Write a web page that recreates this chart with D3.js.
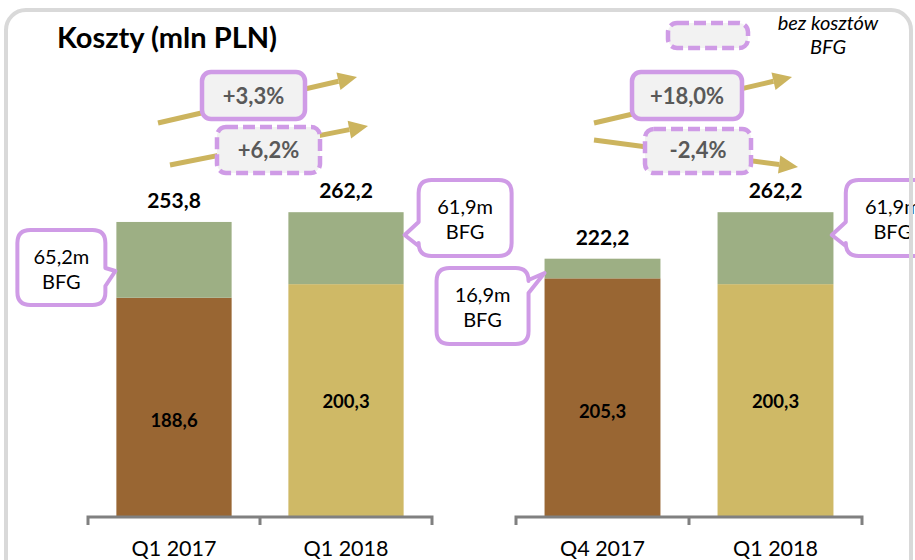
<!DOCTYPE html>
<html>
<head>
<meta charset="utf-8">
<script src="https://cdn.jsdelivr.net/npm/d3@7"></script>
<style>
  html, body { margin: 0; padding: 0; background: #fff; }
  svg { display: block; font-family: Lato, "Open Sans", sans-serif; }
</style>
</head>
<body>
<div id="svg-container"></div>
<script>
// dane (mln PLN)
const categoriesYoY = ['Q1 2017', 'Q1 2018'];
const baseYoY = [188.6, 200.3];
const bfgYoY = [65.2, 61.9];
const totalYoY = [253.8, 262.2];

const categoriesQoQ = ['Q4 2017', 'Q1 2018'];
const baseQoQ = [205.3, 200.3];
const bfgQoQ = [16.9, 61.9];
const totalQoQ = [222.2, 262.2];

const changeTotal = ['+3,3%', '+18,0%'];
const changeNoBfg = ['+6,2%', '-2,4%'];

const brown = '#996633', gold = '#cfb966', green = '#9daf84';
const purple = '#cf9be6', arrowCol = '#ccb45e';

const width = 915, height = 560;
const svg = d3.select('#svg-container').append('svg')
  .attr('width', width).attr('height', height);

const fmt = v => v.toFixed(1).replace('.', ',');

// wspolna skala y
const y = d3.scaleLinear().domain([0, 300]).range([517, 168.25]);

// dwie grupy slupkow
const groups = [
  { cats: categoriesYoY, base: baseYoY, bfg: bfgYoY, total: totalYoY, range: [88, 432] },
  { cats: categoriesQoQ, base: baseQoQ, bfg: bfgQoQ, total: totalQoQ, range: [516, 862] }
];

groups.forEach(grp => {
  const x = d3.scaleBand().domain(grp.cats).range(grp.range)
    .paddingInner(0.33).paddingOuter(0.165);
  grp.x = x;
  const data = grp.cats.map((c, i) => ({
    cat: c, base: grp.base[i], bfg: grp.bfg[i], total: grp.total[i],
    color: i === 0 ? brown : gold, first: i === 0
  }));
  const g = svg.append('g');

  // dolny segment
  g.selectAll('rect.base').data(data).enter().append('rect')
    .attr('x', d => x(d.cat)).attr('width', x.bandwidth())
    .attr('y', d => y(d.base)).attr('height', d => y(0) - y(d.base))
    .attr('fill', d => d.color);
  // segment BFG
  g.selectAll('rect.bfg').data(data).enter().append('rect')
    .attr('x', d => x(d.cat)).attr('width', x.bandwidth())
    .attr('y', d => y(d.base + d.bfg)).attr('height', d => y(d.base) - y(d.base + d.bfg))
    .attr('fill', green);

  // wartosci w srodku
  g.selectAll('text.in').data(data).enter().append('text')
    .attr('x', d => x(d.cat) + x.bandwidth() / 2)
    .attr('y', d => y(d.base / 2) + (d.first ? 20 : 7))
    .attr('text-anchor', 'middle').attr('font-weight', 'bold').attr('font-size', 18.5)
    .attr('fill', '#000').text(d => fmt(d.base));
  // sumy
  g.selectAll('text.tot').data(data).enter().append('text')
    .attr('x', d => x(d.cat) + x.bandwidth() / 2)
    .attr('y', d => y(d.total) - 14)
    .attr('text-anchor', 'middle').attr('font-weight', 'bold').attr('font-size', 21)
    .attr('fill', '#000').text(d => fmt(d.total));

  // os x
  const axis = g.append('g').attr('transform', `translate(0, ${y(0)})`)
    .call(d3.axisBottom(x).tickSize(0).tickPadding(23.5));
  axis.select('.domain').remove();
  axis.selectAll('text').attr('font-size', 21.5).attr('fill', '#000')
    .attr('font-family', 'Lato, sans-serif');
  const r = grp.range, st = x.step();
  let p = `M${r[0]},8V0H${r[1]}V8`;
  for (let i = 1; i < grp.cats.length; i++) p += `M${r[0] + i * st},0V8`;
  axis.append('path').attr('d', p).attr('fill', 'none')
    .attr('stroke', '#808080').attr('stroke-width', 3);
});

// strzalki
function arrow(x1, y1, x2, y2) {
  const dx = x2 - x1, dy = y2 - y1, len = Math.hypot(dx, dy);
  const ux = dx / len, uy = dy / len, hl = 19, hw = 9;
  const bx = x2 - ux * hl, by = y2 - uy * hl;
  svg.append('line').attr('x1', x1).attr('y1', y1).attr('x2', bx).attr('y2', by)
    .attr('stroke', arrowCol).attr('stroke-width', 5);
  svg.append('path')
    .attr('d', `M${x2},${y2}L${bx - uy * hw},${by + ux * hw}L${bx + uy * hw},${by - ux * hw}Z`)
    .attr('fill', arrowCol);
}
arrow(158, 123, 357, 77);
arrow(170, 165, 368, 126);
arrow(594, 123, 792, 77);
arrow(594, 140, 798, 167);

// ramki ze zmiana %
function pctBox(x0, y0, x1, y1, label, dashed) {
  svg.append('rect').attr('x', x0).attr('y', y0).attr('width', x1 - x0).attr('height', y1 - y0)
    .attr('rx', 9).attr('fill', '#f2f2f2').attr('stroke', purple).attr('stroke-width', 4.5)
    .attr('stroke-dasharray', dashed ? '12,5' : null);
  if (label) svg.append('text').attr('x', (x0 + x1) / 2).attr('y', y1 - 15)
    .attr('text-anchor', 'middle').attr('font-weight', 'bold').attr('font-size', 22)
    .attr('fill', '#595959').text(label);
}
pctBox(202, 72, 305, 119, changeTotal[0], false);
pctBox(217, 127, 320, 173, changeNoBfg[0], true);
pctBox(632, 72, 742, 119, changeTotal[1], false);
pctBox(645, 129, 751, 173, changeNoBfg[1], true);

// legenda
pctBox(668, 23, 748, 48, null, true);
svg.append('text').attr('x', 828).attr('y', 30).attr('text-anchor', 'middle')
  .attr('font-style', 'italic').attr('font-size', 20).text('bez kosztów');
svg.append('text').attr('x', 828).attr('y', 54).attr('text-anchor', 'middle')
  .attr('font-style', 'italic').attr('font-size', 20).text('BFG');

// dymki BFG
function bubble(x0, y0, x1, y1, side, yA, yB, tx, ty, val) {
  const r = 13;
  let d;
  if (side === 'right') {
    d = `M${x0 + r},${y0}H${x1 - r}Q${x1},${y0} ${x1},${y0 + r}V${yA}L${tx},${ty}L${x1},${yB}` +
      `V${y1 - r}Q${x1},${y1} ${x1 - r},${y1}H${x0 + r}Q${x0},${y1} ${x0},${y1 - r}V${y0 + r}Q${x0},${y0} ${x0 + r},${y0}Z`;
  } else {
    d = `M${x0 + r},${y0}H${x1 - r}Q${x1},${y0} ${x1},${y0 + r}V${y1 - r}Q${x1},${y1} ${x1 - r},${y1}` +
      `H${x0 + r}Q${x0},${y1} ${x0},${y1 - r}V${yB}L${tx},${ty}L${x0},${yA}V${y0 + r}Q${x0},${y0} ${x0 + r},${y0}Z`;
  }
  svg.append('path').attr('d', d).attr('fill', '#fff').attr('stroke', purple)
    .attr('stroke-width', 4).attr('stroke-linejoin', 'round');
  const cx = (x0 + x1) / 2, cy = (y0 + y1) / 2;
  svg.append('text').attr('x', cx).attr('y', cy - 4).attr('text-anchor', 'middle')
    .attr('font-size', 20).text(fmt(val) + 'm');
  svg.append('text').attr('x', cx).attr('y', cy + 21).attr('text-anchor', 'middle')
    .attr('font-size', 20).text('BFG');
}
const gA = groups[0], gB = groups[1];
const bw = gA.x.bandwidth();
let bx = gA.x(categoriesYoY[0]);
bubble(bx - 99, 230, bx - 11, 305, 'right', 268, 286, bx - 1, 271, bfgYoY[0]);
bx = gA.x(categoriesYoY[1]) + bw;
bubble(bx + 15, 180, bx + 108, 256, 'left', 222, 246, bx + 1, 235, bfgYoY[1]);
bx = gB.x(categoriesQoQ[0]);
bubble(bx - 108, 268, bx - 16, 344, 'right', 280, 293, bx, 273, bfgQoQ[0]);
bx = gB.x(categoriesQoQ[1]) + bw;
bubble(bx + 13, 180, bx + 107, 256, 'left', 222, 246, bx - 1, 235, bfgQoQ[1]);

// tytul
svg.append('text').attr('x', 57).attr('y', 48).attr('font-weight', 'bold')
  .attr('font-size', 29).attr('fill', '#000').text('Koszty (mln PLN)');

// ramka
svg.append('rect').attr('x', 6).attr('y', 10).attr('width', 905).attr('height', 620)
  .attr('rx', 20).attr('fill', 'none').attr('stroke', '#d9d9d9').attr('stroke-width', 4);
</script>
</body>
</html>
